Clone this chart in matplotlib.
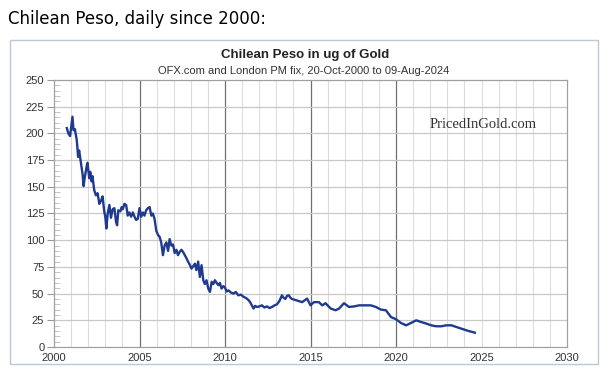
import matplotlib.pyplot as plt
from matplotlib.patches import Rectangle
from matplotlib.ticker import MultipleLocator

# ================= DATA =================
years = [
    2000.75, 2000.84, 2000.94, 2001.08, 2001.14, 2001.22, 2001.33, 2001.41, 2001.47, 2001.57,
    2001.67, 2001.73, 2001.80, 2001.92, 2001.96, 2002.06, 2002.12, 2002.20, 2002.25, 2002.35,
    2002.45, 2002.55, 2002.65, 2002.75, 2002.84, 2002.94, 2003.00, 2003.06, 2003.14, 2003.24,
    2003.33, 2003.43, 2003.53, 2003.63, 2003.69, 2003.76, 2003.88, 2003.96, 2004.02, 2004.12,
    2004.22, 2004.31, 2004.41, 2004.51, 2004.61, 2004.71, 2004.80, 2004.90, 2005.00, 2005.10,
    2005.20, 2005.29, 2005.39, 2005.49, 2005.59, 2005.69, 2005.78, 2005.88, 2005.98, 2006.08,
    2006.18, 2006.27, 2006.37, 2006.47, 2006.57, 2006.67, 2006.76, 2006.86, 2006.96, 2007.06,
    2007.16, 2007.25, 2007.35, 2007.45, 2007.55, 2007.65, 2007.75, 2007.84, 2007.94, 2008.04,
    2008.24, 2008.33, 2008.43, 2008.53, 2008.63, 2008.73, 2008.82, 2008.92, 2009.02, 2009.12,
    2009.22, 2009.32, 2009.41, 2009.51, 2009.61, 2009.70, 2009.80, 2009.90, 2010.00, 2010.10,
    2010.20, 2010.35, 2010.49, 2010.63, 2010.78, 2010.93, 2011.08, 2011.22, 2011.37, 2011.47,
    2011.57, 2011.67, 2011.76, 2011.86, 2012.01, 2012.16, 2012.30, 2012.45, 2012.60, 2012.75,
    2012.90, 2013.04, 2013.18, 2013.33, 2013.43, 2013.53, 2013.63, 2013.73, 2013.83, 2013.92,
    2014.12, 2014.31, 2014.51, 2014.80, 2015.00, 2015.20, 2015.49, 2015.69, 2015.88,
    2016.18, 2016.47, 2016.67, 2016.96, 2017.25, 2017.55, 2017.84, 2018.24, 2018.53, 2018.82,
    2019.12, 2019.41, 2019.71, 2020.00, 2020.29, 2020.59, 2020.88, 2021.18, 2021.47, 2021.76,
    2022.06, 2022.35, 2022.65, 2022.94, 2023.24, 2023.53, 2023.82, 2024.12, 2024.31, 2024.61,
]
ug_gold = [
    205, 200, 197.5, 215.6, 203, 204, 194, 178, 184, 173,
    162, 150.6, 159, 170, 172.5, 158, 164, 155, 160, 147,
    142, 144, 134, 137, 141, 126.6, 122, 111, 125, 133,
    121, 129, 130, 117, 114, 128, 127, 131, 129, 134,
    133, 123, 126, 122, 126, 122, 119, 120, 130, 122,
    126, 123, 128, 130, 131, 123, 125, 120, 109, 105,
    103, 98, 86, 95, 98, 90, 101, 95, 96, 88,
    91, 86, 89, 91, 89, 86, 83, 80, 77, 73.4,
    78, 72, 80, 65.6, 76.6, 62.5, 59, 62.5, 54.7, 51.6,
    61, 59, 62.5, 60, 58, 60, 54.7, 57, 55.6, 52,
    53, 51, 50, 51.5, 48.4, 49, 47, 46, 44, 42,
    39, 36, 38.5, 37.5, 38, 39, 37, 38, 36.5, 37.5,
    39, 40, 43, 48.4, 46, 45, 48, 48.4, 46, 45,
    44, 43, 42, 45.3, 39, 42, 42, 39, 41,
    36, 34.4, 36, 41, 37.5, 38, 39, 39, 39, 37.5,
    35, 34.4, 28, 26, 22.5, 20.3, 22.5, 25, 23.4, 22,
    20.3, 19.4, 19.4, 20.3, 20.3, 18.8, 17.2, 15.6, 14.7, 13.4,
]

x_ticks = [2000, 2005, 2010, 2015, 2020, 2025, 2030]
y_ticks = [0, 25, 50, 75, 100, 125, 150, 175, 200, 225, 250]

# ================= FIGURE =================
W, H = 612, 373
fig = plt.figure(figsize=(W / 100, H / 100), dpi=100)
fig.patch.set_facecolor("white")

# outer chart frame
fig.patches.append(Rectangle((10 / W, 1 - 364 / H), 588 / W, 324 / H,
                             transform=fig.transFigure, fill=False,
                             edgecolor="#bcc8d8", linewidth=1.0))

fig.text(8 / W, 1 - 19 / H, "Chilean Peso, daily since 2000:",
         fontsize=12, color="#000000", va="center", ha="left",
         family="DejaVu Sans")
fig.text(305 / W, 1 - 55 / H, "Chilean Peso in ug of Gold",
         fontsize=9.5, fontweight="bold", color="#222222",
         ha="center", va="center", family="Liberation Sans")
fig.text(304 / W, 1 - 71 / H, "OFX.com and London PM fix, 20-Oct-2000 to 09-Aug-2024",
         fontsize=8, color="#333333", ha="center", va="center",
         family="Liberation Sans")

ax = fig.add_axes([54 / W, 1 - 347 / H, 513 / W, 267 / H])
ax.set_xlim(2000, 2030)
ax.set_ylim(0, 250)

# grid: light yearly lines, darker every 5 years, horizontal every 25
for yr in range(2001, 2030):
    if yr % 5 == 0 and yr < 2025:
        ax.axvline(yr, color="#707070", linewidth=0.9, zorder=1)
    else:
        ax.axvline(yr, color="#dcdcdc", linewidth=0.8, zorder=1)
for v in y_ticks[1:-1]:
    ax.axhline(v, color="#c8c8c8", linewidth=0.9, zorder=1)

ax.plot(years, ug_gold, color="#1f3a8f", linewidth=1.7, zorder=3)

ax.text(483 / W, 1 - 125 / H, "PricedInGold.com", transform=fig.transFigure,
        fontsize=10.5, color="#333333", ha="center", va="center",
        family="Liberation Serif")

ax.set_xticks(x_ticks)
ax.set_yticks(y_ticks)
ax.yaxis.set_minor_locator(MultipleLocator(5))
ax.tick_params(axis="y", which="major", direction="out", length=5,
               width=0.8, color="#999999", labelsize=8, labelcolor="#333333", pad=2)
ax.tick_params(axis="y", which="minor", direction="in", length=4,
               width=0.6, color="#bbbbbb")
ax.tick_params(axis="x", which="major", length=0, labelsize=8,
               labelcolor="#333333", pad=4)
for lbl in ax.get_xticklabels() + ax.get_yticklabels():
    lbl.set_family("Liberation Sans")

for side in ["left", "right", "top", "bottom"]:
    ax.spines[side].set_color("#a0a0a0")
    ax.spines[side].set_linewidth(0.9)

fig.savefig("out.png", dpi=100, facecolor="white")
